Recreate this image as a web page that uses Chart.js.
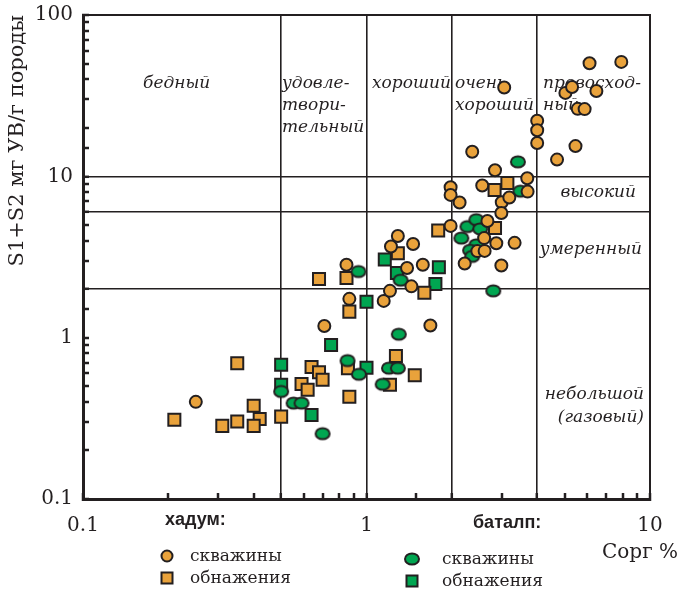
<!DOCTYPE html>
<html>
<head>
<meta charset="utf-8">
<script src="https://cdn.jsdelivr.net/npm/chart.js@4/dist/chart.umd.min.js"></script>
<style>
  html, body { margin: 0; padding: 0; background: #fff; }
  #wrap { width: 678px; height: 594px; }
</style>
</head>
<body>
<div id="wrap"><canvas id="chart" width="678" height="594"></canvas></div>
<script>
// Сорг % (x) and S1+S2 (y)
const hadumWellsX = [0.25, 0.71, 1.68, 0.85, 0.87, 1.15, 1.21, 1.22, 1.29, 1.46, 1.39, 1.58, 1.44, 1.98, 1.98, 2.13, 1.98, 2.36, 2.56, 2.84, 3.0, 3.19, 2.99, 3.69, 3.7, 2.67, 2.6, 2.87, 3.33, 2.46, 2.61, 2.22, 2.99, 3.06, 4.0, 4.0, 4.0, 4.7, 5.46, 5.03, 5.31, 6.47, 5.56, 5.88, 6.12, 7.92];
const hadumWellsY = [0.40, 1.18, 1.19, 2.83, 1.74, 1.69, 1.95, 3.67, 4.27, 3.81, 2.70, 2.83, 2.08, 8.56, 7.67, 6.89, 4.93, 14.2, 8.78, 10.9, 6.91, 7.4, 5.93, 9.73, 8.04, 5.29, 4.14, 3.85, 3.87, 3.44, 3.45, 2.88, 2.8, 35.5, 22.1, 19.3, 16.1, 12.7, 15.4, 32.9, 35.8, 33.8, 26.2, 26.1, 50.2, 51.2];

const hadumOutcropsX = [0.21, 0.31, 0.35, 0.35, 0.40, 0.42, 0.40, 0.50, 0.64, 0.68, 0.70, 0.59, 0.62, 0.86, 0.87, 1.21, 1.27, 1.48, 0.68, 0.85, 0.87, 1.29, 1.6, 1.79, 2.84, 3.14, 2.83];
const hadumOutcropsY = [0.31, 0.284, 0.302, 0.695, 0.378, 0.313, 0.284, 0.324, 0.659, 0.61, 0.548, 0.517, 0.475, 0.647, 0.43, 0.51, 0.77, 0.584, 2.31, 2.34, 1.45, 3.34, 1.9, 4.61, 4.79, 9.1, 8.24];

const batalpWellsX = [0.5, 0.553, 0.59, 0.70, 0.857, 0.94, 1.14, 1.2, 1.29, 1.3, 0.937, 1.32, 2.27, 2.44, 2.52, 2.16, 2.44, 2.32, 2.36, 2.8, 3.42, 3.49];
const batalpWellsY = [0.464, 0.393, 0.393, 0.254, 0.721, 0.593, 0.514, 0.647, 0.647, 1.05, 2.57, 2.27, 4.88, 5.39, 4.72, 4.14, 3.76, 3.48, 3.19, 1.95, 12.3, 8.09];

const batalpOutcropsX = [0.5, 0.5, 0.64, 0.75, 1.0, 1.0, 1.16, 1.28, 1.8, 1.75];
const batalpOutcropsY = [0.68, 0.51, 0.332, 0.90, 0.65, 1.67, 3.05, 2.52, 2.73, 2.15];

// class boundaries
const corgLines = [0.5, 1, 2, 4];
const s1s2Lines = [2, 6, 10];

const ORANGE = "#e9a23b";
const GREEN = "#00a651";
const INK = "#231f20";
const SERIF = '"DejaVu Serif", "Liberation Serif", serif';

function pairs(xs, ys) {
  return xs.map((x, i) => ({ x: x, y: ys[i] }));
}

function isDecade(v) {
  const l = Math.log10(v);
  return Math.abs(l - Math.round(l)) < 1e-6;
}

function isLine(list, v) {
  return list.some(l => Math.abs(l - v) < 1e-6);
}

// green wells are drawn as flattened ovals
function ovalMarker(rx, ry, fill) {
  const c = document.createElement("canvas");
  c.width = Math.ceil(rx * 2 + 4);
  c.height = Math.ceil(ry * 2 + 4);
  const g = c.getContext("2d");
  g.beginPath();
  g.ellipse(c.width / 2, c.height / 2, rx, ry, 0, 0, Math.PI * 2);
  g.fillStyle = fill;
  g.fill();
  g.lineWidth = 2;
  g.strokeStyle = INK;
  g.stroke();
  return c;
}

const greenOval = ovalMarker(7, 5.6, GREEN);

const decor = {
  id: "decor",
  beforeDatasetsDraw(chart) {
    const { ctx, chartArea: a } = chart;
    ctx.save();
    // top and right frame
    ctx.strokeStyle = INK;
    ctx.lineWidth = 2;
    ctx.beginPath();
    ctx.moveTo(a.left, a.top);
    ctx.lineTo(a.right, a.top);
    ctx.lineTo(a.right, a.bottom);
    ctx.stroke();

    ctx.fillStyle = INK;
    ctx.font = "italic 17px " + SERIF;
    ctx.textBaseline = "middle";
    ctx.textAlign = "left";
    [["бедный", 143, 84], ["удовле-", 282, 84], ["твори-", 282, 106], ["тельный", 282, 128],
     ["хороший", 372, 84], ["очень", 455, 84], ["хороший", 455, 106],
     ["превосход-", 543, 84], ["ный", 543, 106]].forEach(t => ctx.fillText(t[0], t[1], t[2]));
    ctx.textAlign = "right";
    [["высокий", 636, 193], ["умеренный", 642, 250],
     ["небольшой", 644, 395], ["(газовый)", 644, 418]].forEach(t => ctx.fillText(t[0], t[1], t[2]));
    ctx.restore();
  },
  afterDraw(chart) {
    const { ctx } = chart;
    ctx.save();
    ctx.fillStyle = INK;
    ctx.textBaseline = "middle";

    ctx.font = "20px " + SERIF;
    ctx.textAlign = "right";
    ctx.fillText("Сорг %", 678, 553);

    ctx.textAlign = "left";
    ctx.font = 'bold 18px "Liberation Sans", Arial, sans-serif';
    ctx.fillText("хадум:", 165, 520);
    ctx.fillText("баталп:", 473, 523);

    ctx.font = "17px " + SERIF;
    ctx.fillText("скважины", 190, 557);
    ctx.fillText("обнажения", 190, 579);
    ctx.fillText("скважины", 442, 560);
    ctx.fillText("обнажения", 442, 582);

    ctx.lineWidth = 2;
    ctx.strokeStyle = INK;
    // legend: hadum
    ctx.fillStyle = ORANGE;
    ctx.beginPath();
    ctx.arc(167, 556, 5.5, 0, Math.PI * 2);
    ctx.fill();
    ctx.stroke();
    ctx.fillRect(161.5, 572.5, 11, 11);
    ctx.strokeRect(161.5, 572.5, 11, 11);
    // legend: batalp
    ctx.drawImage(greenOval, 412 - greenOval.width / 2, 559 - greenOval.height / 2);
    ctx.fillStyle = GREEN;
    ctx.fillRect(406.5, 575.5, 11, 11);
    ctx.strokeRect(406.5, 575.5, 11, 11);
    ctx.restore();
  }
};

new Chart(document.getElementById("chart"), {
  type: "scatter",
  data: {
    datasets: [
      {
        label: "хадум: скважины",
        data: pairs(hadumWellsX, hadumWellsY),
        pointStyle: "circle",
        pointRadius: 6,
        backgroundColor: ORANGE,
        borderColor: INK,
        borderWidth: 2
      },
      {
        label: "баталп: скважины",
        data: pairs(batalpWellsX, batalpWellsY),
        pointStyle: greenOval,
        pointRadius: 7,
        backgroundColor: GREEN,
        borderColor: INK,
        borderWidth: 2
      },
      {
        label: "хадум: обнажения",
        data: pairs(hadumOutcropsX, hadumOutcropsY),
        pointStyle: "rect",
        pointRadius: 8.5,
        backgroundColor: ORANGE,
        borderColor: INK,
        borderWidth: 2
      },
      {
        label: "баталп: обнажения",
        data: pairs(batalpOutcropsX, batalpOutcropsY),
        pointStyle: "rect",
        pointRadius: 8.5,
        backgroundColor: GREEN,
        borderColor: INK,
        borderWidth: 2
      }
    ]
  },
  options: {
    responsive: false,
    animation: false,
    layout: { padding: { left: 0, top: 15, right: 28, bottom: 0 } },
    plugins: {
      legend: { display: false },
      tooltip: { enabled: false }
    },
    scales: {
      x: {
        type: "logarithmic",
        min: 0.1,
        max: 10,
        afterFit: s => {
          s.height = 95;
          s.paddingLeft = 0;
          s.paddingRight = 0;
        },
        border: { display: true, color: INK, width: 3 },
        grid: {
          color: c => isLine(corgLines, c.tick.value) ? INK : "rgba(0,0,0,0)",
          lineWidth: c => isLine(corgLines, c.tick.value) ? 1.6 : 0,
          tickColor: INK,
          tickWidth: 2.5,
          tickLength: -6
        },
        ticks: {
          autoSkip: false,
          maxRotation: 0,
          padding: 21,
          color: INK,
          font: { family: SERIF, size: 20 },
          callback: v => isDecade(v) ? String(v) : ""
        }
      },
      y: {
        type: "logarithmic",
        min: 0.1,
        max: 100,
        afterFit: s => {
          s.width = 83;
          s.paddingTop = 0;
          s.paddingBottom = 0;
        },
        border: { display: true, color: INK, width: 3 },
        grid: {
          color: c => isLine(s1s2Lines, c.tick.value) ? INK : "rgba(0,0,0,0)",
          lineWidth: c => isLine(s1s2Lines, c.tick.value) ? 1.6 : 0,
          tickColor: INK,
          tickWidth: 2.5,
          tickLength: -6
        },
        ticks: {
          autoSkip: false,
          padding: 16,
          color: INK,
          font: { family: SERIF, size: 20 },
          callback: v => isDecade(v) ? String(v) : ""
        },
        title: {
          display: true,
          text: "S1+S2 мг УВ/г породы",
          align: "end",
          color: INK,
          font: { family: SERIF, size: 21 },
          padding: { top: 5, bottom: 0 }
        }
      }
    }
  },
  plugins: [decor]
});
</script>
</body>
</html>
